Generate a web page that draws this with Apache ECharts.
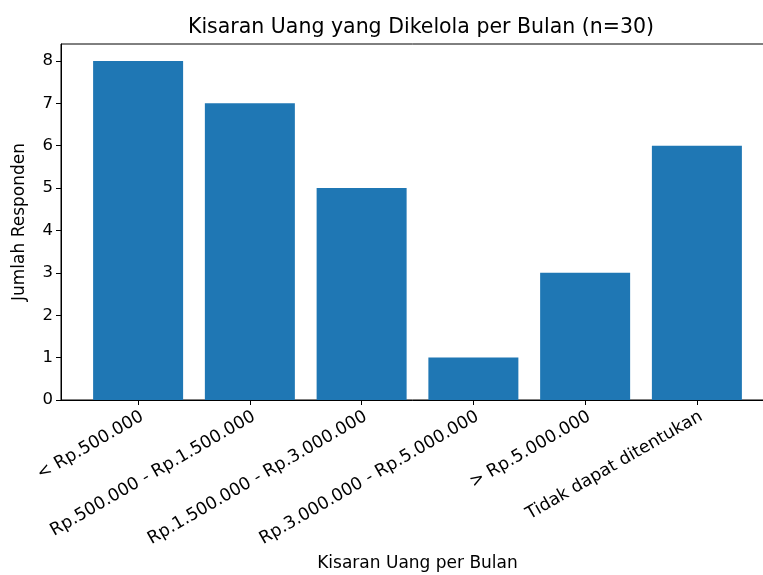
<!DOCTYPE html>
<html><head><meta charset="utf-8">
<script src="https://cdn.jsdelivr.net/npm/echarts@6/dist/echarts.min.js"></script>
<style>html,body{margin:0;padding:0;background:#fff}#c{width:763px;height:575px}</style>
</head><body><div id="c"></div>
<script>
const categories = ["< Rp.500.000", "Rp.500.000 - Rp.1.500.000", "Rp.1.500.000 - Rp.3.000.000", "Rp.3.000.000 - Rp.5.000.000", "> Rp.5.000.000", "Tidak dapat ditentukan"];
const values = [8, 7, 5, 1, 3, 6];
const yTicks = [0, 1, 2, 3, 4, 5, 6, 7, 8];
const xTicks = categories.map((_, i) => i);

const font = "DejaVu Sans";
const chart = echarts.init(document.getElementById('c'), null, {renderer: 'canvas'});
chart.setOption({
  animation: false,
  title: {
    text: "Kisaran Uang yang Dikelola per Bulan (n=30)",
    left: 416, top: 12, textAlign: 'center',
    textStyle: {fontFamily: font, fontSize: 20.5, fontWeight: 'normal', color: '#000'}
  },
  grid: {left: 61, width: 713, top: 44, bottom: 175, outerBoundsMode: 'none', containLabel: false,
    show: true, borderColor: '#000', borderWidth: 1, backgroundColor: 'transparent'},
  xAxis: {
    type: 'value', min: -0.69, max: 5.69,
    name: "Kisaran Uang per Bulan", nameLocation: 'middle', nameGap: 155,
    nameTextStyle: {fontFamily: font, fontSize: 17, color: '#000'},
    axisLine: {show: true, onZero: false, lineStyle: {color: '#000', width: 1}},
    axisTick: {show: true, length: 5, customValues: xTicks, lineStyle: {color: '#000'}},
    axisLabel: {customValues: xTicks, rotate: 30, margin: 8, verticalAlign: 'top', align: 'right',
      fontFamily: font, fontSize: 17.3, color: '#000',
      formatter: v => categories[Math.round(v)]},
    splitLine: {show: false}
  },
  yAxis: {
    type: 'value', min: 0, max: 8.4,
    name: "Jumlah Responden", nameLocation: 'middle', nameGap: 33,
    nameTextStyle: {fontFamily: font, fontSize: 17, color: '#000'},
    axisLine: {show: true, onZero: false, lineStyle: {color: '#000', width: 1}},
    axisTick: {show: true, length: 5, customValues: yTicks, lineStyle: {color: '#000'}},
    axisLabel: {customValues: yTicks, margin: 8, fontFamily: font, fontSize: 16.5, color: '#000'},
    splitLine: {show: false}
  },
  series: [{
    type: 'bar',
    data: values.map((v, i) => [i, v]),
    barWidth: 90,
    itemStyle: {color: '#1f77b4'}
  }]
});
</script></body></html>
